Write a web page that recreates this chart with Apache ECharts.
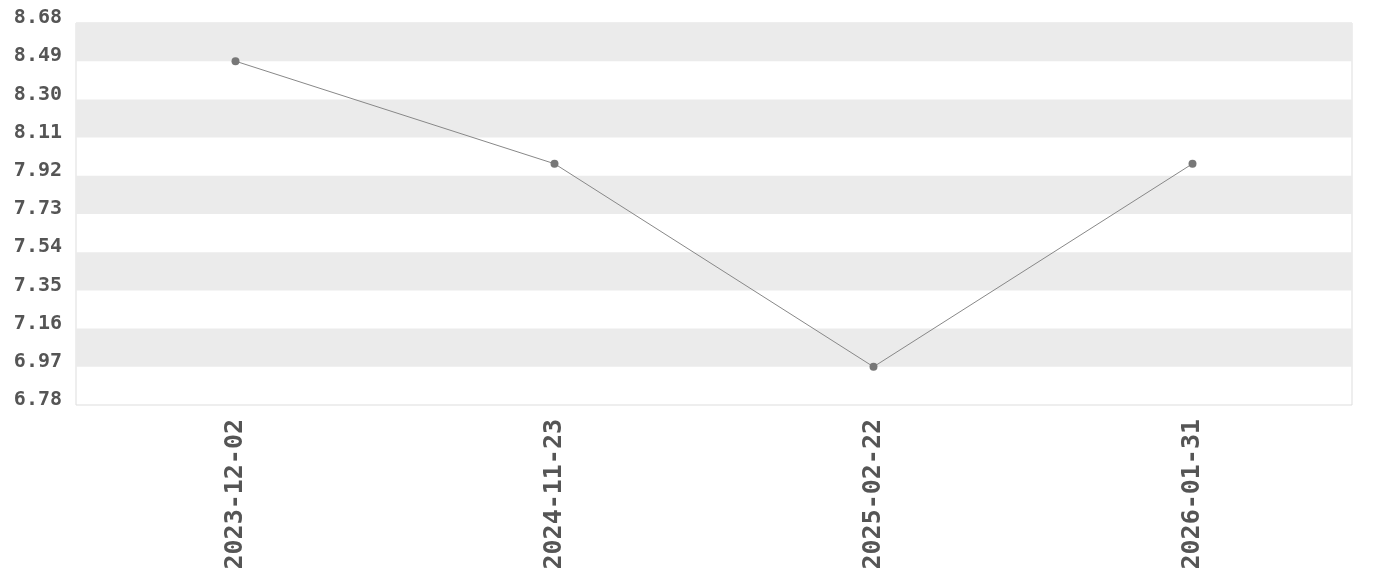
<!DOCTYPE html>
<html>
<head>
<meta charset="utf-8">
<script src="https://cdn.jsdelivr.net/npm/echarts@6/dist/echarts.min.js"></script>
<style>
  html, body { margin: 0; padding: 0; background: #fff; }
  #chart { width: 1380px; height: 580px; }
</style>
</head>
<body>
<div id="chart"></div>
<script>
const dates = ['2023-12-02', '2024-11-23', '2025-02-22', '2026-01-31']
const values = [8.49, 7.98, 6.97, 7.98]
const yMin = 6.78
const yMax = 8.68
const yStep = 0.19

const chart = echarts.init(document.getElementById('chart'))

chart.setOption({
  backgroundColor: '#ffffff',
  animation: false,
  grid: {
    top: 23,
    bottom: 175,
    left: 76,
    right: 28,
    show: true,
    borderColor: '#dddddd',
    borderWidth: 1,
    backgroundColor: 'transparent'
  },
  xAxis: {
    type: 'category',
    data: dates,
    axisLine: { show: false },
    axisTick: { show: false },
    splitLine: { show: false },
    axisLabel: {
      rotate: 90,
      margin: 14,
      color: '#555555',
      fontFamily: 'DejaVu Sans Mono',
      fontWeight: 'bold',
      fontSize: 25
    }
  },
  yAxis: {
    type: 'value',
    min: yMin,
    max: yMax,
    interval: yStep,
    axisLine: { show: false },
    axisTick: { show: false },
    splitLine: { show: false },
    splitArea: {
      show: true,
      areaStyle: { color: ['rgba(255,255,255,0)', '#ebebeb'] }
    },
    axisLabel: {
      margin: 14,
      verticalAlign: 'bottom',
      lineHeight: 10,
      color: '#555555',
      fontFamily: 'DejaVu Sans Mono',
      fontWeight: 'bold',
      fontSize: 20,
      formatter: (v) => v.toFixed(2)
    }
  },
  series: [
    {
      type: 'line',
      data: values,
      symbol: 'circle',
      symbolSize: 8,
      itemStyle: { color: '#777777' },
      lineStyle: { color: '#888888', width: 1 }
    }
  ]
})
</script>
</body>
</html>
